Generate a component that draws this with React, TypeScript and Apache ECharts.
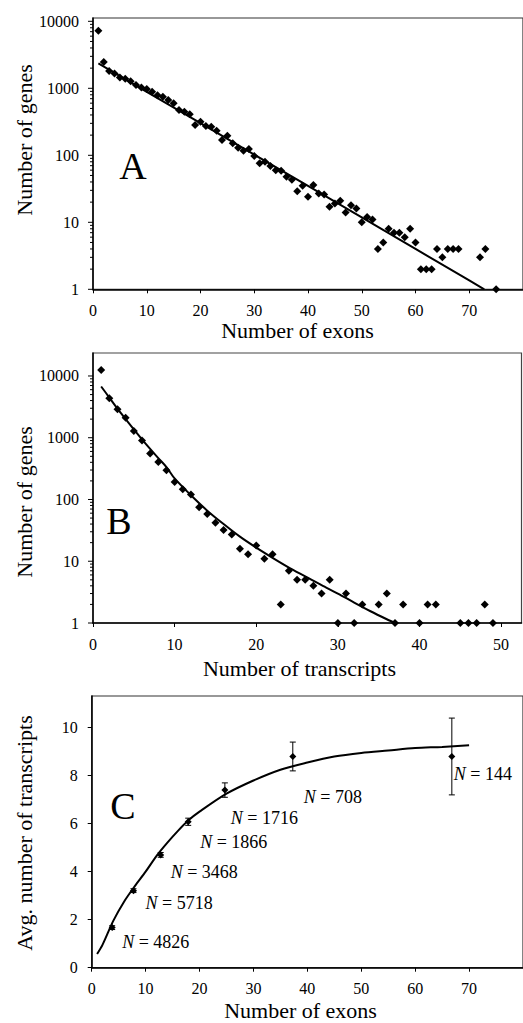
import React, { useEffect, useRef } from "react";
import * as echarts from "echarts";

// ---------- Panel A: genes by number of exons ----------
const A_EXONS = [
  1, 2, 3, 4, 5, 6, 7, 8, 9, 10, 11, 12, 13, 14, 15, 16, 17, 18, 19, 20,
  21, 22, 23, 24, 25, 26, 27, 28, 29, 30, 31, 32, 33, 34, 35, 36, 37, 38, 39, 40,
  41, 42, 43, 44, 45, 46, 47, 48, 49, 50, 51, 52, 53, 54, 55, 56, 57, 58, 59, 60,
  61, 62, 63, 64, 65, 66, 67, 68, 72, 73, 75,
];
const A_GENES = [
  7200, 2460, 1810, 1670, 1450, 1390, 1270, 1120, 1030, 980, 890, 790, 750, 670, 600, 474, 447, 410, 283, 317,
  274, 267, 233, 169, 196, 151, 130, 117, 124, 98, 76, 80, 69, 60, 59, 48, 43, 29, 35, 24,
  36, 27, 26, 17, 19, 21, 14, 18, 16, 10, 12, 11, 4, 5, 8, 7, 7, 6, 8, 5,
  2, 2, 2, 4, 3, 4, 4, 4, 3, 4, 1,
];
const A_FIT_X = [1, 10, 20, 30, 40, 50, 60, 70, 72.8];
const A_FIT_Y = [2360, 887, 301, 102, 35, 11.8, 4.0, 1.36, 1];

// ---------- Panel B: genes by number of transcripts ----------
const B_TRANSCRIPTS = [
  1, 2, 3, 4, 5, 6, 7, 8, 9, 10, 11, 12, 13, 14, 15, 16, 17, 18, 19, 20,
  21, 22, 23, 24, 25, 26, 27, 28, 29, 30, 31, 32, 33, 35, 36, 37, 38, 40, 41, 42,
  45, 46, 47, 48, 49,
];
const B_GENES = [
  12500, 4350, 2890, 2110, 1290, 900, 555, 405, 297, 192, 147, 120, 75, 58, 42, 32, 27, 16, 13, 18,
  11, 13, 2, 7, 5, 5, 4, 3, 5, 1, 3, 1, 2, 2, 3, 1, 2, 1, 2, 2,
  1, 1, 1, 2, 1,
];
const B_FIT_X = [1, 2, 3, 4, 5, 6, 7, 8, 9, 10, 12, 14, 16, 18, 20, 22, 24, 26, 28, 30, 32, 34, 36, 37];
const B_FIT_Y = [6760, 4470, 2950, 2000, 1365, 944, 661, 468, 335, 219, 117, 66, 40, 25, 16.6, 11.35, 7.9, 5.7, 4.1, 3.0, 2.14, 1.55, 1.15, 1];

// ---------- Panel C: avg transcripts by number of exons ----------
const C_EXONS = [3.8, 7.75, 12.8, 17.9, 24.7, 37.3, 66.8];
const C_AVG = [1.67, 3.21, 4.7, 6.08, 7.4, 8.8, 8.8];
const C_ERR = [0.08, 0.08, 0.1, 0.15, 0.3, 0.6, 1.6];
const C_N = [4826, 5718, 3468, 1866, 1716, 708, 144];
const C_FIT_X = [1, 2, 4, 6, 8, 10, 12, 14, 16, 18, 20, 25, 30, 35, 40, 45, 50, 55, 60, 65, 70];
const C_FIT_Y = [0.57, 0.95, 1.95, 2.75, 3.4, 4.0, 4.65, 5.2, 5.7, 6.15, 6.5, 7.25, 7.8, 8.25, 8.55, 8.8, 8.95, 9.05, 9.15, 9.2, 9.27];

// axis tick values
const LOG_DECADES = [1, 10, 100, 1000];
const LOG_MULTS = [1, 2, 3, 4, 5, 6, 7, 8, 9];
const LOG_TICKS = [...LOG_DECADES.flatMap((d) => LOG_MULTS.map((m) => d * m)), 10000];

// label offsets (style) for panel C N-labels, px relative to point
const C_LABEL_OFFSETS = [
  [10, 14], [12, 12], [10, 17], [12, 20], [6, 28], [11, 41], [2, 18],
];

const FONT = "Liberation Serif";

export default function App() {
  const ref = useRef<HTMLDivElement>(null);

  useEffect(() => {
    if (!ref.current) return;
    const chart = echarts.init(ref.current, null, { renderer: "svg" });

    const axisLine = { show: true, lineStyle: { color: "#000", width: 1.5 } };
    const xLabel = { color: "#000", fontSize: 16, fontFamily: FONT, margin: 13, showMaxLabel: false };
    const yLabel = { color: "#000", fontSize: 16, fontFamily: FONT, margin: 14 };
    const tick = { show: true, inside: false, length: 4, lineStyle: { color: "#000", width: 1 } };

    const logTickSeries = (idx: number) => ({
      type: "custom",
      xAxisIndex: idx,
      yAxisIndex: idx,
      silent: true,
      clip: false,
      data: LOG_TICKS.map((v) => [0, v]),
      renderItem: (_p: any, api: any) => {
        const v = api.value(1);
        const pt = api.coord([api.value(0), v]);
        const lg = Math.log10(v);
        const major = Math.abs(lg - Math.round(lg)) < 1e-9;
        const len = major ? 5 : 3;
        return {
          type: "line",
          shape: { x1: pt[0] - len, y1: pt[1], x2: pt[0], y2: pt[1] },
          style: { stroke: "#000", lineWidth: 1 },
        };
      },
    });

    const logFormatter = (v: number) => {
      const lg = Math.log10(v);
      return Math.abs(lg - Math.round(lg)) < 1e-9 ? String(Math.round(v)) : "";
    };

    const titleText = (text: string, x: number, y: number, rotate = false, size = 22) => ({
      type: "text",
      x,
      y,
      rotation: rotate ? Math.PI / 2 : 0,
      silent: true,
      style: {
        text,
        fill: "#000",
        fontSize: size,
        fontFamily: FONT,
        textAlign: "center",
        textVerticalAlign: "middle",
      },
    });

    const dot = { color: "#000", opacity: 1 };

    const option: any = {
      animation: false,
      backgroundColor: "#fff",
      textStyle: { fontFamily: FONT },
      grid: [
        { left: 93, top: 18, width: 442, height: 271.3, show: true, borderColor: "#333", borderWidth: 1.2 },
        { left: 93, top: 353, width: 428.5, height: 270, show: true, borderColor: "#444", borderWidth: 1.2 },
        { left: 91.7, top: 696, width: 440, height: 271.7, show: true, borderColor: "#333", borderWidth: 1.2 },
      ],
      xAxis: [
        {
          gridIndex: 0, type: "value", min: 0, max: 80, interval: 10,
          axisLine, axisTick: tick, axisLabel: xLabel, splitLine: { show: false },
        },
        {
          gridIndex: 1, type: "value", min: 0, max: 52.5, interval: 10,
          axisLine, axisTick: tick, axisLabel: xLabel, splitLine: { show: false },
        },
        {
          gridIndex: 2, type: "value", min: 0, max: 80, interval: 10,
          axisLine, axisTick: tick, axisLabel: xLabel, splitLine: { show: false },
        },
      ],
      yAxis: [
        {
          gridIndex: 0, type: "log", logBase: 10, min: 1, max: 11200,
          axisLine, axisTick: { show: false },
          axisLabel: { ...yLabel, formatter: logFormatter, showMaxLabel: false },
          splitLine: { show: false },
        },
        {
          gridIndex: 1, type: "log", logBase: 10, min: 1, max: 23550,
          axisLine, axisTick: { show: false },
          axisLabel: { ...yLabel, formatter: logFormatter, showMaxLabel: false },
          splitLine: { show: false },
        },
        {
          gridIndex: 2, type: "value", min: 0, max: 11.32, interval: 2,
          axisLine, axisTick: tick,
          axisLabel: { ...yLabel, showMaxLabel: false },
          splitLine: { show: false },
        },
      ],
      series: [
        logTickSeries(0),
        logTickSeries(1),
        {
          type: "line", xAxisIndex: 0, yAxisIndex: 0, showSymbol: false, silent: true,
          data: A_FIT_X.map((x, i) => [x, A_FIT_Y[i]]),
          lineStyle: { color: "#000", width: 2 },
        },
        {
          type: "scatter", xAxisIndex: 0, yAxisIndex: 0, symbol: "diamond", symbolSize: 8, clip: false,
          data: A_EXONS.map((x, i) => [x, A_GENES[i]]),
          itemStyle: dot,
        },
        {
          type: "line", xAxisIndex: 1, yAxisIndex: 1, showSymbol: false, silent: true, smooth: 0.3,
          data: B_FIT_X.map((x, i) => [x, B_FIT_Y[i]]),
          lineStyle: { color: "#000", width: 2 },
        },
        {
          type: "scatter", xAxisIndex: 1, yAxisIndex: 1, symbol: "diamond", symbolSize: 8, clip: false,
          data: B_TRANSCRIPTS.map((x, i) => [x, B_GENES[i]]),
          itemStyle: dot,
        },
        {
          type: "line", xAxisIndex: 2, yAxisIndex: 2, showSymbol: false, silent: true, smooth: 0.3,
          data: C_FIT_X.map((x, i) => [x, C_FIT_Y[i]]),
          lineStyle: { color: "#000", width: 2 },
        },
        {
          type: "custom", xAxisIndex: 2, yAxisIndex: 2, silent: true,
          data: C_EXONS.map((x, i) => [x, C_AVG[i] - C_ERR[i], C_AVG[i] + C_ERR[i]]),
          renderItem: (_p: any, api: any) => {
            const x = api.value(0);
            const lo = api.coord([x, api.value(1)]);
            const hi = api.coord([x, api.value(2)]);
            const w = 3;
            const st = { stroke: "#000", lineWidth: 1 };
            return {
              type: "group",
              children: [
                { type: "line", shape: { x1: lo[0], y1: lo[1], x2: hi[0], y2: hi[1] }, style: st },
                { type: "line", shape: { x1: lo[0] - w, y1: lo[1], x2: lo[0] + w, y2: lo[1] }, style: st },
                { type: "line", shape: { x1: hi[0] - w, y1: hi[1], x2: hi[0] + w, y2: hi[1] }, style: st },
              ],
            };
          },
        },
        {
          type: "scatter", xAxisIndex: 2, yAxisIndex: 2, symbol: "diamond", symbolSize: 7,
          data: C_EXONS.map((x, i) => ({
            value: [x, C_AVG[i]],
            label: {
              show: true,
              position: "inside",
              align: "left",
              verticalAlign: "middle",
              offset: C_LABEL_OFFSETS[i],
              formatter: `{i|N} = ${C_N[i]}`,
              color: "#000",
              fontSize: 18,
              fontFamily: FONT,
              rich: { i: { fontStyle: "italic", fontSize: 18, fontFamily: FONT, color: "#000" } },
            },
          })),
          itemStyle: dot,
        },
      ],
      graphic: [
        titleText("Number of genes", 24, 140, true),
        titleText("Number of exons", 297.5, 330),
        titleText("Number of genes", 24, 502, true),
        titleText("Number of transcripts", 299.5, 668),
        titleText("Avg. number of transcripts", 24, 833, true),
        titleText("Number of exons", 300.5, 1010),
        titleText("A", 133, 166, false, 38),
        titleText("B", 119, 521, false, 38),
        titleText("C", 123, 806, false, 38),
      ],
    };

    chart.setOption(option);
    return () => chart.dispose();
  }, []);

  return (
    <div
      ref={ref}
      style={{ position: "fixed", left: 0, top: 0, width: 523, height: 1023, background: "#fff" }}
    />
  );
}
